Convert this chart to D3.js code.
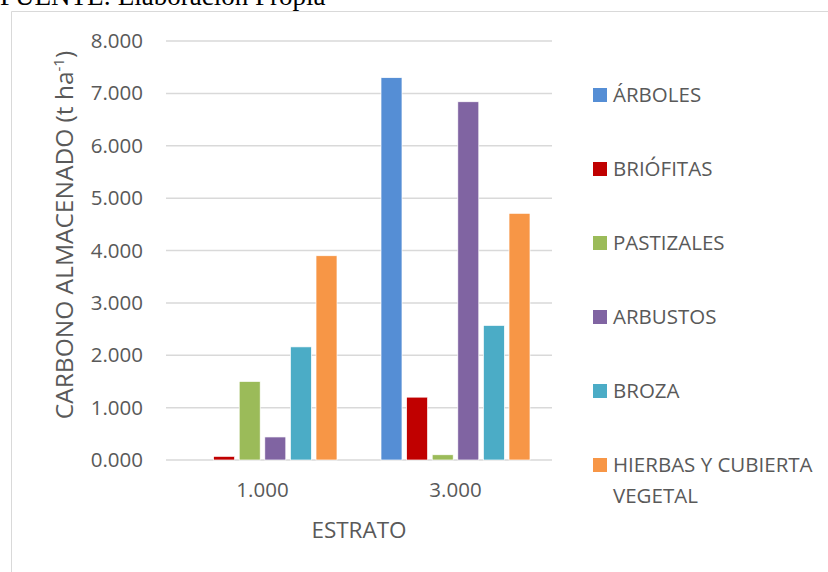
<!DOCTYPE html>
<html>
<head>
<meta charset="utf-8">
<script src="https://cdn.jsdelivr.net/npm/d3@7"></script>
<style>
  body { margin: 0; background: #fff; }
  svg { display: block; }
</style>
</head>
<body>
<script>
"use strict";

(function() {

const width = 828;
const height = 572;

// data
const estratos = ["1.000", "3.000"];
const series = ["ÁRBOLES", "BRIÓFITAS", "PASTIZALES", "ARBUSTOS", "BROZA", "HIERBAS Y CUBIERTA VEGETAL"];
const arboles   = [0, 7.30];
const briofitas = [0.07, 1.20];
const pastizales = [1.50, 0.10];
const arbustos  = [0.44, 6.84];
const broza     = [2.16, 2.57];
const hierbas   = [3.90, 4.71];
const yTicks = [0, 1, 2, 3, 4, 5, 6, 7, 8];

const values = [arboles, briofitas, pastizales, arbustos, broza, hierbas];
const colors = ["#558ed5", "#c00000", "#9bbb59", "#8064a2", "#4bacc6", "#f79646"];

const fmt = d3.format(".3f");
const textColor = "#595959";
const font = "'Open Sans', sans-serif";

let svg = d3.select("body").append("svg")
    .attr("width", width)
    .attr("height", height);

// source note at the very top (cut off)
svg.append("text")
    .attr("x", 0)
    .attr("y", 5)
    .style("font-family", "'Liberation Serif', 'Times New Roman', serif")
    .style("font-size", "27px")
    .style("fill", "#000")
    .text("FUENTE: Elaboración Propia");

// chart frame
svg.append("path")
    .attr("d", "M11.5," + height + "V11.5H" + width)
    .attr("fill", "none")
    .attr("stroke", "#d9d9d9")
    .attr("stroke-width", 1);

let x0 = d3.scaleBand()
    .domain(estratos)
    .range([166, 552]);

let x1 = d3.scaleBand()
    .domain(series)
    .range([22, x0.bandwidth() - 22])
    .paddingInner(0.18);

let y = d3.scaleLinear()
    .domain([0, 8])
    .range([460, 41]);

// gridlines
svg.append("g")
    .selectAll("line")
    .data(yTicks)
    .enter()
    .append("line")
    .attr("x1", 166)
    .attr("x2", 552)
    .attr("y1", d => y(d))
    .attr("y2", d => y(d))
    .attr("stroke", "#d9d9d9")
    .attr("stroke-width", 1.5);

// y axis labels
let yAxis = svg.append("g")
    .attr("transform", "translate(166,0)")
    .call(d3.axisLeft(y).tickValues(yTicks).tickFormat(d => fmt(d)).tickSize(0).tickPadding(23));
yAxis.select(".domain").remove();
yAxis.selectAll("text")
    .style("font-family", font)
    .style("font-size", "20.5px")
    .style("fill", textColor);

// bars
let groups = svg.append("g")
    .selectAll("g")
    .data(estratos)
    .enter()
    .append("g")
    .attr("transform", d => "translate(" + x0(d) + ",0)");

groups.selectAll("rect")
    .data((d, i) => series.map((s, j) => ({ s: s, v: values[j][i], c: colors[j] })))
    .enter()
    .append("rect")
    .filter(d => d.v > 0)
    .attr("x", d => x1(d.s))
    .attr("y", d => y(d.v))
    .attr("width", x1.bandwidth())
    .attr("height", d => y(0) - y(d.v))
    .style("fill", d => d.c)
    .style("stroke", "#fff")
    .style("stroke-width", 0.7);

// x axis labels
let xAxis = svg.append("g")
    .attr("transform", "translate(0,460)")
    .call(d3.axisBottom(x0).tickSize(0).tickPadding(22));
xAxis.select(".domain").remove();
xAxis.selectAll("text")
    .style("font-family", font)
    .style("font-size", "20.5px")
    .style("fill", textColor);

// axis titles
svg.append("text")
    .attr("x", 359)
    .attr("y", 538)
    .attr("text-anchor", "middle")
    .style("font-family", font)
    .style("font-size", "22.5px")
    .style("fill", textColor)
    .text("ESTRATO");

let yTitle = svg.append("text")
    .attr("transform", "translate(73,235) rotate(-90)")
    .attr("text-anchor", "middle")
    .style("font-family", font)
    .style("font-size", "24.5px")
    .style("fill", textColor);
yTitle.append("tspan").text("CARBONO ALMACENADO (t ha");
yTitle.append("tspan").attr("dy", -9).style("font-size", "15px").text("-1");
yTitle.append("tspan").attr("dy", 9).text(")");

// legend
let legend = svg.append("g")
    .selectAll("g")
    .data(series)
    .enter()
    .append("g")
    .attr("transform", (d, i) => "translate(593," + (95 + i * 74) + ")");

legend.append("rect")
    .attr("x", 0)
    .attr("y", -7)
    .attr("width", 14)
    .attr("height", 14)
    .style("fill", (d, i) => colors[i]);

legend.append("text")
    .attr("x", 20)
    .attr("y", 7)
    .style("font-family", font)
    .style("font-size", "20.5px")
    .style("fill", textColor)
    .each(function(d) {
        let t = d3.select(this);
        if (d === "HIERBAS Y CUBIERTA VEGETAL") {
            t.append("tspan").attr("x", 20).text("HIERBAS Y CUBIERTA");
            t.append("tspan").attr("x", 20).attr("dy", 31).text("VEGETAL");
        } else {
            t.text(d);
        }
    });

})();
</script>
</body>
</html>
